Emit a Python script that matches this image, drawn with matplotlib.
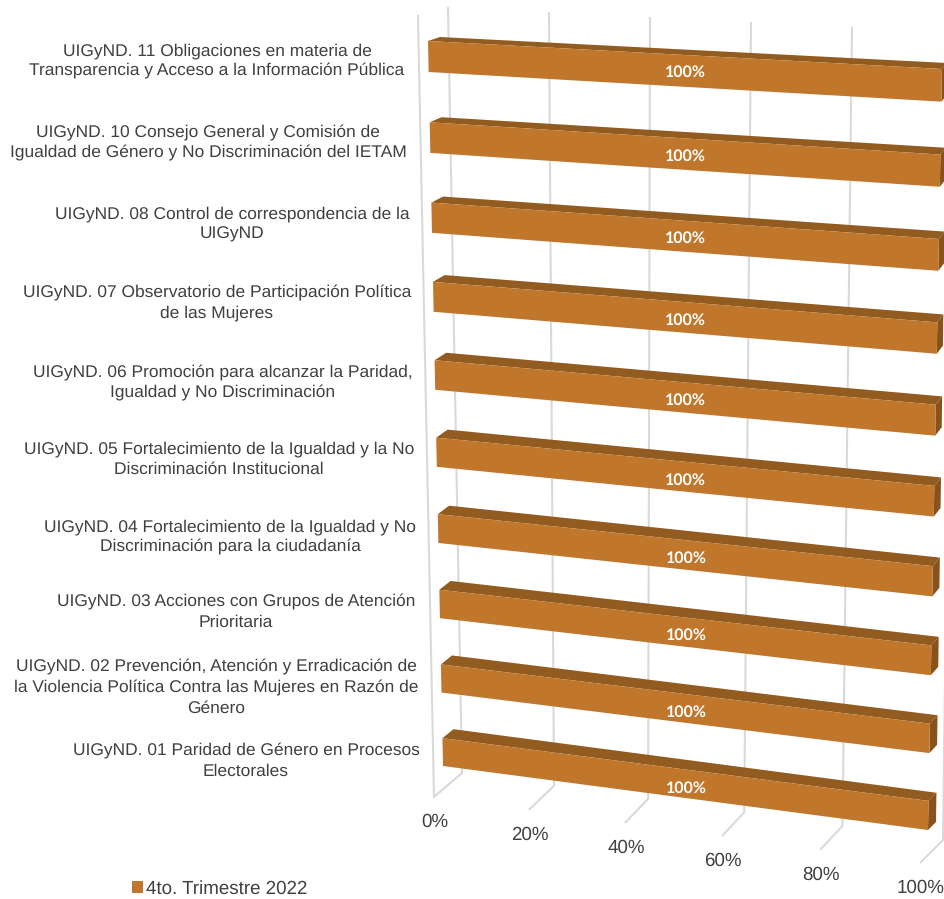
import numpy as np
import matplotlib
matplotlib.use("Agg")
import matplotlib.pyplot as plt
from matplotlib.patches import Polygon, Patch

plt.rcParams["text.hinting"] = "no_hinting"
plt.rcParams["text.hinting_factor"] = 8

categories = [
    "UIGyND. 01 Paridad de Género en Procesos\nElectorales",
    "UIGyND. 02 Prevención, Atención y Erradicación de\nla Violencia Política Contra las Mujeres en Razón de\nGénero",
    "UIGyND. 03 Acciones con Grupos de Atención\nPrioritaria",
    "UIGyND. 04 Fortalecimiento de la Igualdad y No\nDiscriminación para la ciudadanía",
    "UIGyND. 05 Fortalecimiento de la Igualdad y la No\nDiscriminación Institucional",
    "UIGyND. 06 Promoción para alcanzar la Paridad,\nIgualdad y No Discriminación",
    "UIGyND. 07 Observatorio de Participación Política\nde las Mujeres",
    "UIGyND. 08 Control de correspondencia de la\nUIGyND",
    "UIGyND. 10 Consejo General y Comisión de\nIgualdad de Género y No Discriminación del IETAM",
    "UIGyND. 11 Obligaciones en materia de\nTransparencia y Acceso a la Información Pública",
]
values = [100, 100, 100, 100, 100, 100, 100, 100, 100, 100]
series_name = "4to. Trimestre 2022"
ticks = [0, 20, 40, 60, 80, 100]
tick_labels = ["0%", "20%", "40%", "60%", "80%", "100%"]

FRONT, TOP, SIDE = "#C0772B", "#925B20", "#87521B"
GRID = "#D9D9D9"
TEXT = "#404040"
W = 945
H = 899
HALF = 0.19  # half bar thickness in category units


def homography(src, dst):
    A, b = [], []
    for (x, y), (u, v) in zip(src, dst):
        A.append([x, y, 1, 0, 0, 0, -u * x, -u * y])
        A.append([0, 0, 0, x, y, 1, -v * x, -v * y])
        b += [u, v]
    m = np.linalg.solve(np.array(A, float), np.array(b, float))
    return np.append(m, 1).reshape(3, 3)


def apply(M, x, y):
    p = M @ np.array([x, y, 1.0])
    return p[0] / p[2], p[1] / p[2]


c0, c1 = 0.5 - HALF, 9.5 + HALF
unit = [(0, c0), (1, c0), (0, c1), (1, c1)]
front = homography(unit, [(443, 766), (928, 830), (428, 41), (942, 69)])
back = homography(unit, [(454, 757), (936, 822), (440, 37), (947, 63)])
wall = homography([(0, 0), (1, 0), (0, 1), (1, 1)],
                  [(462, 773), (943, 840), (448, 7), (951, 32)])
side = homography([(0, 0), (1, 0), (0, 1), (1, 1)],
                  [(434, 797), (920, 863), (418, 16), (930, 60)])
wall_top = ((448, 7), (953, 32))


def wall_top_at(v):
    (x0, y0), (x1, y1) = wall_top
    return x0 + (x1 - x0) * v, y0 + (y1 - y0) * v


fig = plt.figure(figsize=(W / 100, H / 100), dpi=100)
ax = fig.add_axes([0, 0, 1, 1])
ax.set_xlim(0, W)
ax.set_ylim(H, 0)
ax.axis("off")

# grid: back wall verticals and floor lines
for t in ticks:
    v = t / 100
    a = wall_top_at(v)
    b = apply(wall, v, 0)
    c = apply(side, v, 0)
    ax.plot([a[0], b[0], c[0]], [a[1], b[1], c[1]], color=GRID, lw=1.5,
            solid_joinstyle="miter", solid_capstyle="butt", zorder=1)
pa, pb = apply(side, 0, 1), apply(side, 0, 0)
ax.plot([pa[0], pb[0]], [pa[1], pb[1]], color=GRID, lw=1.5, zorder=1)

# tick labels sit below the front end of each floor line
for t, lab in zip(ticks, tick_labels):
    x, y = apply(side, t / 100, 0)
    ax.text(x + 1, y + 25, lab, ha="center", va="center", fontsize=13.5,
            family="Liberation Sans", color=TEXT)

# bars
for i, val in enumerate(values):
    v = val / 100
    lo, hi = i + 0.5 - HALF, i + 0.5 + HALF
    fl, fr = apply(front, 0, lo), apply(front, v, lo)
    tl, tr = apply(front, 0, hi), apply(front, v, hi)
    bl, br = apply(back, 0, hi), apply(back, v, hi)
    sr = apply(back, v, lo)
    ax.add_patch(Polygon([tl, bl, br, tr], closed=True, fc=TOP, ec="none", zorder=3))
    ax.add_patch(Polygon([tr, br, sr, fr], closed=True, fc=SIDE, ec="none", zorder=3))
    ax.add_patch(Polygon([fl, fr, tr, tl], closed=True, fc=FRONT, ec="none", zorder=4))
    mx, my = apply(front, v / 2, i + 0.5)
    ax.text(mx + 7, my + 3.5 + 0.3 * (4.5 - i), f"{val}%", ha="center", va="center",
            color="white", fontsize=11.5, fontweight="bold", family="Lato", zorder=5)

# category labels, each centred beside the left end of its bar
label_centres = [246, 216, 236, 230, 219, 223, 217, 232, 208, 217]
label_ys = [761, 688, 612, 537, 459, 383, 303, 224, 143, 61]
for lab, cx, cy in zip(categories, label_centres, label_ys):
    ax.text(cx, cy, lab, ha="center", va="center", fontsize=12.5,
            family="Liberation Sans", color=TEXT, linespacing=1.38)

leg = ax.legend(handles=[Patch(fc=FRONT, ec="none", label=series_name)],
                loc="center left", bbox_to_anchor=(113 / W, 1 - 889 / H),
                frameon=False, handlelength=0.58, handleheight=0.58,
                handletextpad=0.2, borderpad=0.5,
                prop={"family": "Liberation Sans", "size": 13.5})
for t in leg.get_texts():
    t.set_color(TEXT)

fig.savefig("out.png", dpi=100)
